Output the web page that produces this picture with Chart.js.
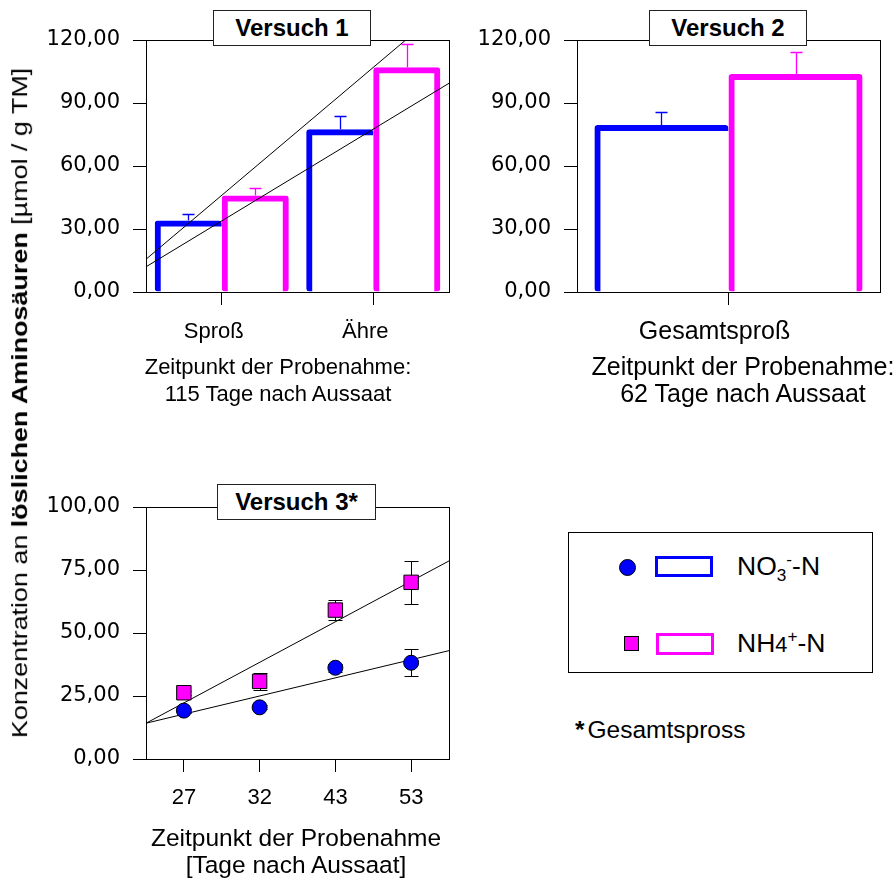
<!DOCTYPE html>
<html lang="de">
<head>
<meta charset="utf-8">
<title>Lösliche Aminosäuren</title>
<script src="https://cdn.jsdelivr.net/npm/chart.js@4.4.1/dist/chart.umd.min.js"></script>
<style>
  html, body { margin: 0; padding: 0; background: #fff; }
  body {
    position: relative; width: 894px; height: 881px; overflow: hidden;
    font-family: "Liberation Sans", Arial, sans-serif; color: #000;
  }
  canvas { position: absolute; }
  #c1 { left: 30px; top: 0; }
  #c2 { left: 460px; top: 0; }
  #c3 { left: 30px; top: 470px; }
  .versuch {
    position: absolute; box-sizing: border-box; height: 36px;
    border: 1px solid #222; background: #fff;
    font-weight: bold; font-size: 24px; line-height: 34px; text-align: center;
  }
  .caption { position: absolute; width: 400px; text-align: center; white-space: nowrap; }
  #yTitle { position: absolute; white-space: nowrap; font-size: 22px; line-height: 26px; }
  #legend {
    position: absolute; left: 568px; top: 532px; width: 305px; height: 141px;
    box-sizing: border-box; border: 1px solid #000;
  }
  #legend .mark { position: absolute; box-sizing: border-box; }
  #legend .txt { position: absolute; left: 168px; font-size: 26.5px; line-height: 30px; white-space: nowrap; }
  #legend sub, #legend sup { font-size: 0.65em; line-height: 0; }
  #note { position: absolute; left: 575px; top: 716px; font-size: 24.5px; line-height: 28px; }
</style>
</head>
<body>
<canvas id="c1" width="440" height="410"></canvas>
<canvas id="c2" width="434" height="410"></canvas>
<canvas id="c3" width="440" height="411"></canvas>

<div class="versuch" style="left:213px; top:10px; width:158px;">Versuch 1</div>
<div class="versuch" style="left:649px; top:10px; width:158px;">Versuch 2</div>
<div class="versuch" style="left:217px; top:484px; width:159px;">Versuch 3*</div>

<div class="caption" style="left:78px; top:353px; font-size:22px; line-height:27px;">Zeitpunkt der Probenahme:<br>115 Tage nach Aussaat</div>
<div class="caption" style="left:543px; top:353px; font-size:25px; line-height:27px;">Zeitpunkt der Probenahme:<br>62 Tage nach Aussaat</div>
<div class="caption" style="left:96px; top:824px; font-size:24.5px; line-height:27px;">Zeitpunkt der Probenahme<br>[Tage nach Aussaat]</div>

<div id="yTitle">Konzentration an <b>löslichen Aminosäuren</b> [µmol / g TM]</div>

<div id="legend">
  <span class="mark" style="left:50px; top:26px; width:17px; height:17px; border-radius:50%; background:#0000ff; border:1px solid #000;"></span>
  <span class="mark" style="left:86px; top:23px; width:58px; height:21px; border:3px solid #0000ff;"></span>
  <span class="txt" style="top:18px;">NO<sub>3</sub><sup>-</sup>-N</span>
  <span class="mark" style="left:55px; top:103px; width:15px; height:15px; background:#ff00ff; border:1px solid #000;"></span>
  <span class="mark" style="left:87px; top:100px; width:58px; height:22px; border:3px solid #ff00ff;"></span>
  <span class="txt" style="top:95px;">NH<span style="font-size:0.82em">4</span><sup>+</sup>-N</span>
</div>
<div id="note"><b style="margin-right:3px;">*</b>Gesamtspross</div>

<script>
// Versuch 1: Spross und Ähre, 115 Tage nach Aussaat
const versuch1Labels = ["Sproß", "Ähre"];
const versuch1No3 = [34.0, 77.5];
const versuch1No3Err = [3.0, 6.5];
const versuch1Nh4 = [46.0, 107.0];
const versuch1Nh4Err = [3.5, 11.0];
// Ausgleichsgeraden, Werte am linken und rechten Rand der Grafik
const versuch1FitSteep = [15.6, 137.4];
const versuch1FitFlat = [12.0, 99.4];

// Versuch 2: Gesamtspross, 62 Tage nach Aussaat
const versuch2Labels = ["Gesamtsproß"];
const versuch2No3 = [79.5];
const versuch2No3Err = [6.2];
const versuch2Nh4 = [103.8];
const versuch2Nh4Err = [10.6];

// Versuch 3: Zeitreihe Gesamtspross
const versuch3Days = ["27", "32", "43", "53"];
const versuch3No3 = [19.2, 20.5, 36.2, 38.2];
const versuch3No3Err = [0.8, 0.8, 1.5, 5.3];
const versuch3Nh4 = [26.3, 30.8, 59.1, 70.1];
const versuch3Nh4Err = [0.8, 3.3, 4.0, 8.4];
const versuch3FitNo3 = [14.2, 43.0];
const versuch3FitNh4 = [14.2, 78.6];

const BLUE = "#0000ff";
const MAGENTA = "#ff00ff";

Chart.defaults.font.family = '"Liberation Sans", Arial, sans-serif';
Chart.defaults.color = "#000";
Chart.defaults.animation = false;

// closed frame around the plot area
const plotFrame = {
  id: "plotFrame",
  beforeDatasetsDraw(chart) {
    const { ctx, chartArea: a } = chart;
    ctx.save();
    ctx.strokeStyle = "#000";
    ctx.lineWidth = 1;
    ctx.strokeRect(Math.round(a.left) + 0.5, Math.round(a.top) + 0.5,
      Math.round(a.right - a.left), Math.round(a.bottom - a.top));
    ctx.restore();
  }
};

// error bars from dataset.errors (upwards only, or both directions)
const errorBars = {
  id: "errorBars",
  beforeDatasetsDraw(chart, _args, opts) {
    const { ctx } = chart;
    const y = chart.scales.y;
    chart.data.datasets.forEach((ds, di) => {
      if (!ds.errors) return;
      const meta = chart.getDatasetMeta(di);
      ctx.save();
      ctx.strokeStyle = opts.color || ds.borderColor;
      ctx.lineWidth = opts.lineWidth || 1;
      meta.data.forEach((el, i) => {
        const v = ds.data[i];
        const e = ds.errors[i];
        const x = Math.round(el.x) + 0.5;
        const top = Math.round(y.getPixelForValue(v + e)) + 0.5;
        const bottom = opts.both ? Math.round(y.getPixelForValue(v - e)) + 0.5 : y.getPixelForValue(v);
        ctx.beginPath();
        ctx.moveTo(x, bottom);
        ctx.lineTo(x, top);
        ctx.moveTo(x - opts.cap, top);
        ctx.lineTo(x + opts.cap, top);
        if (opts.both) {
          ctx.moveTo(x - opts.cap, bottom);
          ctx.lineTo(x + opts.cap, bottom);
        }
        ctx.stroke();
      });
      ctx.restore();
    });
  }
};

// straight fit lines across the whole plot area of a bar chart,
// given by their values at the left and right edge
const edgeLines = {
  id: "edgeLines",
  afterDatasetsDraw(chart, _args, opts) {
    if (!opts.lines) return;
    const { ctx, chartArea: a } = chart;
    const y = chart.scales.y;
    ctx.save();
    ctx.beginPath();
    ctx.rect(a.left, a.top, a.right - a.left, a.bottom - a.top);
    ctx.clip();
    ctx.strokeStyle = "#000";
    ctx.lineWidth = 1;
    opts.lines.forEach(([atLeft, atRight]) => {
      ctx.beginPath();
      ctx.moveTo(a.left, y.getPixelForValue(atLeft));
      ctx.lineTo(a.right, y.getPixelForValue(atRight));
      ctx.stroke();
    });
    ctx.restore();
  }
};

function decimalComma(v) {
  return v.toFixed(2).replace(".", ",");
}

function valueAxis(max, step, width) {
  return {
    min: 0,
    max: max,
    afterFit(scale) { scale.width = width; },
    border: { color: "#000" },
    grid: { drawOnChartArea: false, color: "#000", tickLength: 13 },
    ticks: {
      stepSize: step,
      padding: 13,
      font: { family: '"DejaVu Sans", sans-serif', size: 21 },
      callback: decimalComma
    }
  };
}

function categoryAxis(height, labelSize, labelPad, labelShift) {
  return {
    offset: true,
    afterFit(scale) { scale.height = height; },
    border: { color: "#000" },
    grid: { offset: false, drawOnChartArea: false, color: "#000", tickLength: 13 },
    ticks: { padding: labelPad, labelOffset: labelShift, maxRotation: 0, font: { size: labelSize } }
  };
}

const fitAxis = { type: "linear", min: 0, max: 1, offset: false, display: false };

function barSet(values, errors, color, closeRight) {
  return {
    data: values,
    errors: errors,
    borderColor: color,
    backgroundColor: "rgba(0,0,0,0)",
    borderWidth: { top: 6, left: 6, right: closeRight ? 6 : 0, bottom: 0 },
    borderSkipped: false,
    borderRadius: 3,
    barPercentage: 1,
    categoryPercentage: 0.885
  };
}

function fitSet(ends) {
  return {
    xAxisID: "xFit",
    data: ends.map((v, i) => ({ x: i, y: v })),
    borderColor: "#000",
    borderWidth: 1,
    pointRadius: 0,
    fill: false,
    clip: 0,
    order: 1
  };
}

function pointSet(values, errors, style, color, radius) {
  return {
    data: values,
    errors: errors,
    showLine: false,
    pointStyle: style,
    pointRadius: radius,
    pointBackgroundColor: color,
    pointBorderColor: "#000",
    pointBorderWidth: 1,
    borderColor: "#000",
    order: 0
  };
}

const noLegend = { legend: { display: false }, tooltip: { enabled: false } };

new Chart(document.getElementById("c1"), {
  type: "bar",
  data: {
    labels: versuch1Labels,
    datasets: [
      barSet(versuch1No3, versuch1No3Err, BLUE, false),
      barSet(versuch1Nh4, versuch1Nh4Err, MAGENTA, true)
    ]
  },
  options: {
    responsive: false,
    layout: { padding: { top: 40, right: 21, bottom: 0, left: 0 } },
    plugins: {
      ...noLegend,
      errorBars: { cap: 6, lineWidth: 1.3 },
      edgeLines: { lines: [versuch1FitSteep, versuch1FitFlat] }
    },
    scales: {
      x: categoryAxis(118, 22, 14, -8),
      y: valueAxis(120, 30, 116)
    }
  },
  plugins: [plotFrame, errorBars, edgeLines]
});

new Chart(document.getElementById("c2"), {
  type: "bar",
  data: {
    labels: versuch2Labels,
    datasets: [
      barSet(versuch2No3, versuch2No3Err, BLUE, false),
      barSet(versuch2Nh4, versuch2Nh4Err, MAGENTA, true)
    ]
  },
  options: {
    responsive: false,
    layout: { padding: { top: 40, right: 14, bottom: 0, left: 0 } },
    plugins: { ...noLegend, errorBars: { cap: 6, lineWidth: 1.3 } },
    scales: {
      x: categoryAxis(118, 25, 12, -14),
      y: valueAxis(120, 30, 117)
    }
  },
  plugins: [plotFrame, errorBars]
});

new Chart(document.getElementById("c3"), {
  type: "line",
  data: {
    labels: versuch3Days,
    datasets: [
      pointSet(versuch3No3, versuch3No3Err, "circle", BLUE, 7.5),
      pointSet(versuch3Nh4, versuch3Nh4Err, "rect", MAGENTA, 10.2),
      fitSet(versuch3FitNo3),
      fitSet(versuch3FitNh4)
    ]
  },
  options: {
    responsive: false,
    layout: { padding: { top: 37, right: 21, bottom: 0, left: 0 } },
    plugins: { ...noLegend, errorBars: { cap: 7, lineWidth: 1, color: "#000", both: true } },
    scales: {
      x: categoryAxis(122, 22, 13, 0),
      xFit: fitAxis,
      y: valueAxis(100, 25, 116)
    }
  },
  plugins: [plotFrame, errorBars]
});

// vertical axis title shared by all three panels
const yTitle = document.getElementById("yTitle");
const w = yTitle.offsetWidth;
const h = yTitle.offsetHeight;
yTitle.style.left = (20 - w / 2) + "px";
yTitle.style.top = (403 - h / 2) + "px";
yTitle.style.transform = "rotate(-90deg) scaleX(" + (670 / w) + ")";
</script>
</body>
</html>
